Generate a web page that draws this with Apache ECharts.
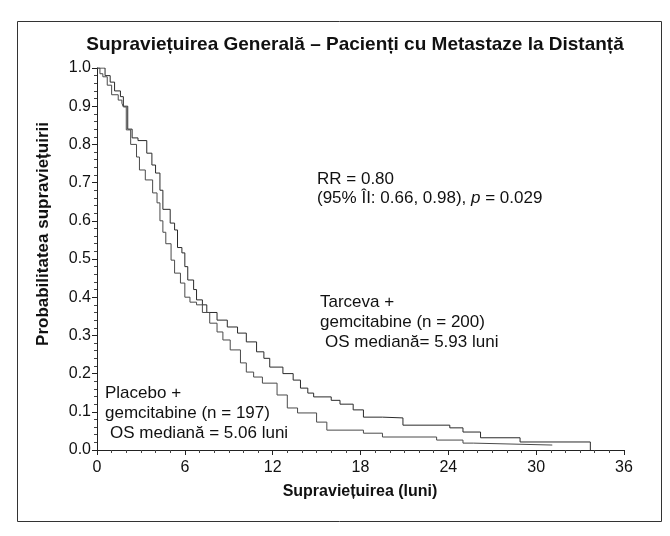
<!DOCTYPE html>
<html>
<head>
<meta charset="utf-8">
<script src="https://cdn.jsdelivr.net/npm/echarts/dist/echarts.min.js"></script>
<style>
  html, body { margin: 0; padding: 0; background: #fff; }
  #chart { width: 670px; height: 536px; }
</style>
</head>
<body>
<div id="chart"></div>
<script>
// (luni, probabilitate)
var tarcevaT = [0, 0.55, 0.9, 1.2, 1.6, 1.8, 2.1, 2.4, 2.8, 3.4, 3.75, 4.0, 4.3, 4.5, 5.0, 5.3, 5.5, 5.8, 6.0, 6.2, 6.6, 6.8, 7.2, 7.5, 8.2, 8.9, 9.6, 10.2, 10.9, 11.4, 11.8, 12.7, 13.4, 13.9, 14.4, 14.8, 16.0, 16.6, 17.5, 18.2, 19.5, 20.9, 24.1, 25.0, 26.2, 28.9, 33.7];
var tarcevaS = [1.0, 0.98, 0.963, 0.94, 0.925, 0.90, 0.84, 0.817, 0.81, 0.777, 0.746, 0.725, 0.68, 0.63, 0.594, 0.576, 0.53, 0.516, 0.48, 0.445, 0.42, 0.393, 0.38, 0.36, 0.34, 0.322, 0.306, 0.283, 0.257, 0.24, 0.217, 0.2, 0.183, 0.162, 0.149, 0.139, 0.13, 0.12, 0.105, 0.086, 0.084, 0.065, 0.058, 0.047, 0.032, 0.021, 0.0];

var placeboT = [0, 0.2, 0.4, 0.7, 1.0, 1.45, 1.7, 1.8, 2.0, 2.3, 2.7, 2.9, 3.3, 3.8, 4.1, 4.3, 4.5, 4.7, 5.06, 5.3, 5.7, 6.0, 6.35, 6.8, 7.2, 7.7, 8.2, 8.6, 9.1, 9.8, 10.2, 10.7, 11.3, 12.3, 13.0, 13.7, 15.0, 15.7, 18.2, 19.5, 23.2, 25.0, 25.7, 31.1];
var placeboS = [1.0, 0.985, 0.977, 0.955, 0.93, 0.916, 0.908, 0.898, 0.838, 0.80, 0.767, 0.733, 0.707, 0.673, 0.647, 0.60, 0.57, 0.54, 0.497, 0.463, 0.437, 0.40, 0.387, 0.38, 0.36, 0.332, 0.309, 0.288, 0.262, 0.228, 0.204, 0.191, 0.175, 0.144, 0.11, 0.097, 0.073, 0.052, 0.044, 0.034, 0.026, 0.018, 0.013, 0.013];

// pacienti cenzurati
var tarcevaCensT = [14.7, 15.1, 17.6, 26.8, 27.2, 29.4];
var tarcevaCensS = [0.139, 0.139, 0.105, 0.032, 0.032, 0.021];
var placeboCensT = [31.1];
var placeboCensS = [0.013];

var xTicks = [0, 6, 12, 18, 24, 30, 36];
var yTicks = [0, 0.1, 0.2, 0.3, 0.4, 0.5, 0.6, 0.7, 0.8, 0.9, 1.0];

function pairs(t, s) {
  var out = [];
  for (var i = 0; i < t.length; i++) out.push([t[i], s[i]]);
  return out;
}

var font = "'Liberation Sans', Arial, sans-serif";
var chart = echarts.init(document.getElementById("chart"));

var option = {
  animation: false,
  textStyle: { fontFamily: font },
  grid: { left: 97, top: 68, right: 46, bottom: 86 },
  xAxis: {
    type: "value",
    min: xTicks[0],
    max: xTicks[xTicks.length - 1],
    interval: 6,
    axisLine: { lineStyle: { color: "#222", width: 1 } },
    axisTick: { length: 5, lineStyle: { color: "#222" } },
    minorTick: { show: true, splitNumber: 6, length: 3, lineStyle: { color: "#444" } },
    axisLabel: { color: "#111", fontSize: 16, margin: 10, fontFamily: font },
    splitLine: { show: false }
  },
  yAxis: {
    type: "value",
    min: yTicks[0],
    max: yTicks[yTicks.length - 1],
    interval: 0.1,
    axisLine: { show: true, lineStyle: { color: "#222", width: 1 } },
    axisTick: { show: true, length: 5, lineStyle: { color: "#222" } },
    minorTick: { show: true, splitNumber: 5, length: 3, lineStyle: { color: "#444" } },
    axisLabel: {
      color: "#111", fontSize: 16, margin: 6, fontFamily: font,
      formatter: function (v) { return v.toFixed(1); }
    },
    splitLine: { show: false }
  },
  series: [
    {
      name: "Tarceva",
      type: "line",
      step: "end",
      symbol: "none",
      lineStyle: { color: "#2a2a2a", width: 1 },
      data: pairs(tarcevaT, tarcevaS)
    },
    {
      name: "Placebo",
      type: "line",
      step: "end",
      symbol: "none",
      lineStyle: { color: "#4a4a4a", width: 1 },
      data: pairs(placeboT, placeboS)
    },
    {
      type: "scatter",
      symbol: "emptyCircle",
      symbolSize: 5,
      itemStyle: { color: "#fff", borderColor: "#333", borderWidth: 1 },
      data: pairs(tarcevaCensT, tarcevaCensS).concat(pairs(placeboCensT, placeboCensS))
    }
  ],
  graphic: [
    {
      type: "rect",
      shape: { x: 17.5, y: 21.5, width: 644, height: 500 },
      style: { fill: null, stroke: "#333", lineWidth: 1 }
    },
    {
      type: "text", x: 355, y: 45,
      style: {
        text: "Supraviețuirea Generală – Pacienți cu Metastaze la Distanță",
        font: "bold 19px " + font, fill: "#111",
        textAlign: "center", textVerticalAlign: "middle"
      }
    },
    {
      type: "text", x: 43, y: 234, rotation: Math.PI / 2,
      style: {
        text: "Probabilitatea supraviețuirii",
        font: "bold 17px " + font, fill: "#111",
        textAlign: "center", textVerticalAlign: "middle"
      }
    },
    {
      type: "text", x: 360, y: 492,
      style: {
        text: "Supraviețuirea (luni)",
        font: "bold 16px " + font, fill: "#111",
        textAlign: "center", textVerticalAlign: "middle"
      }
    },
    {
      type: "text", x: 317, y: 179,
      style: {
        text: "RR = 0.80",
        font: "17px " + font, fill: "#111", textVerticalAlign: "middle"
      }
    },
    {
      type: "text", x: 317, y: 198,
      style: {
        text: "{n|(95% ÎI: 0.66, 0.98), }{i|p}{n| = 0.029}",
        textVerticalAlign: "middle",
        rich: {
          n: { font: "17px " + font, fill: "#111" },
          i: { font: "italic 17px " + font, fill: "#111" }
        }
      }
    },
    {
      type: "text", x: 320, y: 302,
      style: { text: "Tarceva +", font: "17px " + font, fill: "#111", textVerticalAlign: "middle" }
    },
    {
      type: "text", x: 320, y: 322,
      style: { text: "gemcitabine (n = 200)", font: "17px " + font, fill: "#111", textVerticalAlign: "middle" }
    },
    {
      type: "text", x: 325, y: 342,
      style: { text: "OS mediană= 5.93 luni", font: "17px " + font, fill: "#111", textVerticalAlign: "middle" }
    },
    {
      type: "text", x: 105, y: 393,
      style: { text: "Placebo +", font: "17px " + font, fill: "#111", textVerticalAlign: "middle" }
    },
    {
      type: "text", x: 105, y: 413,
      style: { text: "gemcitabine (n = 197)", font: "17px " + font, fill: "#111", textVerticalAlign: "middle" }
    },
    {
      type: "text", x: 110, y: 433,
      style: { text: "OS mediană = 5.06 luni", font: "17px " + font, fill: "#111", textVerticalAlign: "middle" }
    }
  ]
};

chart.setOption(option);
</script>
</body>
</html>
